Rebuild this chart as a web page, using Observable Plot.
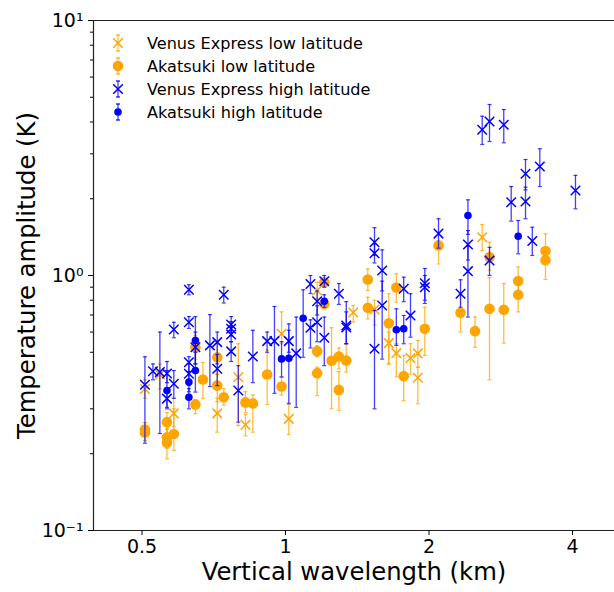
<!DOCTYPE html>
<html><head><meta charset="utf-8">
<script src="https://cdn.jsdelivr.net/npm/d3@7"></script>
<script src="https://cdn.jsdelivr.net/npm/@observablehq/plot@0.6"></script>
<style>
html,body{margin:0;padding:0;background:#fff;}
#wrap{position:relative;width:614px;height:592px;font-family:"DejaVu Sans",sans-serif;}
#wrap svg{display:block;}
#legend{position:absolute;left:0;top:0;pointer-events:none;}
</style></head>
<body><div id="wrap"></div>
<script>
// ---- Venus Express, low latitude (orange x) ----
const vexLowX  = [0.507,0.545,0.583,0.719,0.796,0.824,0.981,1.016,1.165,1.387,1.537,1.647,1.708,1.829,1.895,1.895,2.586];
const vexLowY  = [0.359,0.409,0.288,0.288,0.399,0.260,0.591,0.274,0.873,0.716,0.736,0.543,0.496,0.475,0.495,0.397,1.413];
const vexLowLo = [0.330,0.359,0.255,0.243,0.258,0.235,0.540,0.238,0.810,0.656,0.640,0.450,0.400,0.410,0.437,0.314,1.253];
const vexLowHi = [0.390,0.450,0.330,0.330,0.540,0.285,0.720,0.316,0.940,0.763,0.800,0.600,0.540,0.540,0.556,0.437,1.585];

// ---- Akatsuki, low latitude (orange circles) ----
const akaLowX  = [0.507,0.507,0.564,0.564,0.564,0.583,0.647,0.647,0.671,0.719,0.719,0.742,0.824,0.854,0.915,0.981,1.165,1.165,1.206,1.206,1.249,1.294,1.294,1.341,1.488,1.488,1.647,1.708,1.770,1.960,2.094,2.329,2.498,2.679,2.679,2.870,3.077,3.077,3.511,3.511];
const akaLowY  = [0.249,0.242,0.266,0.232,0.221,0.239,0.523,0.312,0.391,0.478,0.370,0.333,0.318,0.315,0.409,0.367,0.505,0.414,0.941,0.775,0.463,0.481,0.356,0.464,0.965,0.747,0.650,0.897,0.403,0.618,1.311,0.714,0.605,1.180,0.740,0.734,0.952,0.840,1.248,1.148];
const akaLowLo = [0.225,0.225,0.240,0.210,0.191,0.206,0.470,0.287,0.329,0.410,0.320,0.310,0.290,0.243,0.312,0.340,0.480,0.338,0.900,0.740,0.300,0.430,0.296,0.418,0.873,0.676,0.450,0.786,0.323,0.486,1.110,0.600,0.523,1.050,0.390,0.543,0.870,0.720,1.150,0.965];
const akaLowHi = [0.265,0.265,0.290,0.250,0.250,0.300,0.580,0.326,0.456,0.550,0.410,0.360,0.350,0.340,0.510,0.400,0.530,0.437,0.980,0.810,0.624,0.520,0.420,0.540,1.060,0.822,0.848,1.015,0.486,0.751,1.372,0.848,0.687,1.350,0.980,0.930,1.080,0.940,1.457,1.250];

// ---- Venus Express, high latitude (blue x) ----
const vexHighX  = [0.507,0.527,0.545,0.564,0.564,0.583,0.583,0.627,0.627,0.627,0.627,0.647,0.694,0.719,0.719,0.742,0.769,0.769,0.769,0.769,0.796,0.854,0.915,0.948,1.016,1.053,1.128,1.128,1.165,1.165,1.206,1.206,1.294,1.341,1.341,1.537,1.537,1.537,1.595,1.595,1.770,1.829,1.960,1.960,2.094,2.329,2.414,2.414,2.586,2.679,2.679,2.870,2.975,3.188,3.188,3.294,3.416,4.058];
const vexHighY  = [0.373,0.421,0.418,0.413,0.329,0.614,0.376,0.879,0.656,0.457,0.412,0.523,0.532,0.548,0.431,0.840,0.642,0.618,0.587,0.504,0.354,0.481,0.553,0.553,0.553,0.495,0.926,0.624,0.793,0.656,0.950,0.570,0.848,0.637,0.625,1.351,1.223,0.516,1.046,0.763,0.887,0.697,0.933,0.900,1.460,0.848,1.323,1.040,3.728,4.018,1.145,3.899,1.939,2.505,1.950,1.365,2.676,2.154];
const vexHighLo = [0.220,0.390,0.240,0.380,0.300,0.570,0.330,0.840,0.620,0.420,0.370,0.450,0.367,0.450,0.370,0.780,0.600,0.580,0.550,0.460,0.266,0.380,0.500,0.345,0.500,0.304,0.850,0.520,0.700,0.550,0.900,0.443,0.770,0.540,0.540,1.200,1.120,0.300,0.870,0.470,0.790,0.573,0.777,0.800,1.280,0.751,1.150,0.687,3.264,3.354,1.000,3.314,1.634,2.167,1.670,1.198,2.233,1.826];
const vexHighHi = [0.480,0.450,0.600,0.460,0.360,0.655,0.424,0.920,0.690,0.480,0.450,0.600,0.703,0.600,0.490,0.900,0.690,0.660,0.630,0.550,0.443,0.610,0.600,0.756,0.610,0.687,1.000,0.670,0.870,0.760,1.000,0.687,0.930,0.790,0.720,1.540,1.330,0.730,1.260,0.950,0.985,0.848,1.065,1.000,1.670,0.962,1.500,1.300,4.214,4.685,1.290,4.477,2.233,2.850,2.220,1.547,3.140,2.470];

// ---- Akatsuki, high latitude (blue dots) ----
const akaHighX  = [0.564,0.627,0.627,0.647,0.647,0.981,1.016,1.089,1.206,1.708,1.770,2.414,3.077];
const akaHighY  = [0.354,0.382,0.333,0.556,0.424,0.471,0.474,0.680,0.793,0.613,0.618,1.719,1.426];
const akaHighLo = [0.304,0.350,0.300,0.450,0.349,0.400,0.314,0.478,0.750,0.532,0.540,1.450,1.216];
const akaHighHi = [0.424,0.420,0.360,0.690,0.500,0.550,0.646,0.879,0.840,0.740,0.697,1.980,1.643];

// ---- axes ----
const xTicks = [0.5, 1, 2, 4];
const yMajorTicks = [0.1, 1, 10];
const yMajorLabels = ["10⁻¹", "10⁰", "10¹"];
const yMinorTicks = [0.2,0.3,0.4,0.5,0.6,0.7,0.8,0.9,2,3,4,5,6,7,8,9];
const xDomain = [0.3955, 4.9];
const yDomain = [0.1, 10];
const xLabel = "Vertical wavelength (km)";
const yLabel = "Temperature amplitude (K)";
const seriesNames = ["Venus Express low latitude","Akatsuki low latitude","Venus Express high latitude","Akatsuki high latitude"];

const ORANGE = "#ffa500", BLUE = "#0000ff";

function rows(xs, ys, lo, hi) {
  return xs.map((x, i) => ({x, y: ys[i], lo: lo[i], hi: hi[i]}));
}
const capSymbol = {draw(ctx, size) { const r = Math.sqrt(size / Math.PI); ctx.moveTo(-r, 0); ctx.lineTo(r, 0); }};

function errMarks(data, color) {
  return [
    Plot.ruleX(data, {x: "x", y1: "lo", y2: "hi", stroke: color, strokeWidth: 1.3, strokeOpacity: 0.75}),
    Plot.dot(data, {x: "x", y: "lo", symbol: capSymbol, r: 2, stroke: color, strokeWidth: 1.2, strokeOpacity: 0.75}),
    Plot.dot(data, {x: "x", y: "hi", symbol: capSymbol, r: 2, stroke: color, strokeWidth: 1.2, strokeOpacity: 0.75})
  ];
}

const vexLow = rows(vexLowX, vexLowY, vexLowLo, vexLowHi);
const akaLow = rows(akaLowX, akaLowY, akaLowLo, akaLowHi);
const vexHigh = rows(vexHighX, vexHighY, vexHighLo, vexHighHi);
const akaHigh = rows(akaHighX, akaHighY, akaHighLo, akaHighHi);

const chart = Plot.plot({
  width: 614, height: 592,
  marginLeft: 93, marginRight: 0, marginTop: 20, marginBottom: 62,
  style: {fontFamily: "DejaVu Sans", color: "#000", background: "#fff", overflow: "visible"},
  x: {type: "log", domain: xDomain},
  y: {type: "log", domain: yDomain},
  marks: [
    ...errMarks(vexLow, ORANGE),
    Plot.dot(vexLow, {x: "x", y: "y", symbol: "times", r: 4.4, stroke: ORANGE, strokeWidth: 1.5}),
    ...errMarks(akaLow, ORANGE),
    Plot.dot(akaLow, {x: "x", y: "y", r: 5.3, fill: ORANGE, stroke: "none"}),
    ...errMarks(vexHigh, BLUE),
    Plot.dot(vexHigh, {x: "x", y: "y", symbol: "times", r: 4.4, stroke: BLUE, strokeWidth: 1.5}),
    ...errMarks(akaHigh, BLUE),
    Plot.dot(akaHigh, {x: "x", y: "y", r: 3.8, fill: BLUE, stroke: "none"}),
    Plot.ruleY([yDomain[1]], {stroke: "#222", strokeWidth: 1.2}),
    Plot.ruleY([yDomain[0]], {stroke: "#222", strokeWidth: 1.2}),
    Plot.ruleX([xDomain[0]], {stroke: "#222", strokeWidth: 1.2}),
    Plot.axisX(xTicks, {tickSize: 5, tickPadding: 4, fontSize: 19, tickFormat: d => String(d), label: null}),
    Plot.axisY(yMajorTicks, {tickSize: 5, tickPadding: 5, fontSize: 19, tickFormat: d => yMajorLabels[yMajorTicks.indexOf(d)], label: null}),
    Plot.axisY(yMinorTicks, {tickSize: 3, tickFormat: () => "", label: null}),
    Plot.text([xLabel], {frameAnchor: "bottom", dy: 49, fontSize: 24.3, fill: "#000", textAnchor: "middle"}),
    Plot.text([yLabel], {frameAnchor: "left", dx: -66, rotate: -90, fontSize: 24.3, fill: "#000", textAnchor: "middle"})
  ]
});
document.getElementById("wrap").appendChild(chart);

// ---- legend overlay ----
const leg = d3.select("#wrap").append("svg").attr("id", "legend").attr("width", 614).attr("height", 592);
const legColors = [ORANGE, ORANGE, BLUE, BLUE];
const legKinds = ["x", "o", "x", "d"];
seriesNames.forEach((name, i) => {
  const cy = 43 + i * 23, cx = 118;
  const g = leg.append("g").attr("transform", `translate(${cx},${cy})`);
  const c = legColors[i];
  g.append("line").attr("x1", 0).attr("x2", 0).attr("y1", -8).attr("y2", 8).attr("stroke", c).attr("stroke-width", 1.3).attr("stroke-opacity", 0.75);
  g.append("line").attr("x1", -2).attr("x2", 2).attr("y1", -8).attr("y2", -8).attr("stroke", c).attr("stroke-width", 1.2);
  g.append("line").attr("x1", -2).attr("x2", 2).attr("y1", 8).attr("y2", 8).attr("stroke", c).attr("stroke-width", 1.2);
  if (legKinds[i] === "x") {
    g.append("path").attr("d", "M-4.8,-4.8L4.8,4.8M-4.8,4.8L4.8,-4.8").attr("stroke", c).attr("stroke-width", 1.5).attr("fill", "none");
  } else {
    g.append("circle").attr("r", legKinds[i] === "o" ? 5.3 : 3.8).attr("fill", c);
  }
  leg.append("text").attr("x", 147).attr("y", cy).attr("dy", "0.35em")
    .attr("font-family", "DejaVu Sans").attr("font-size", 16.1).attr("fill", "#000").text(name);
});
</script>
</body></html>
